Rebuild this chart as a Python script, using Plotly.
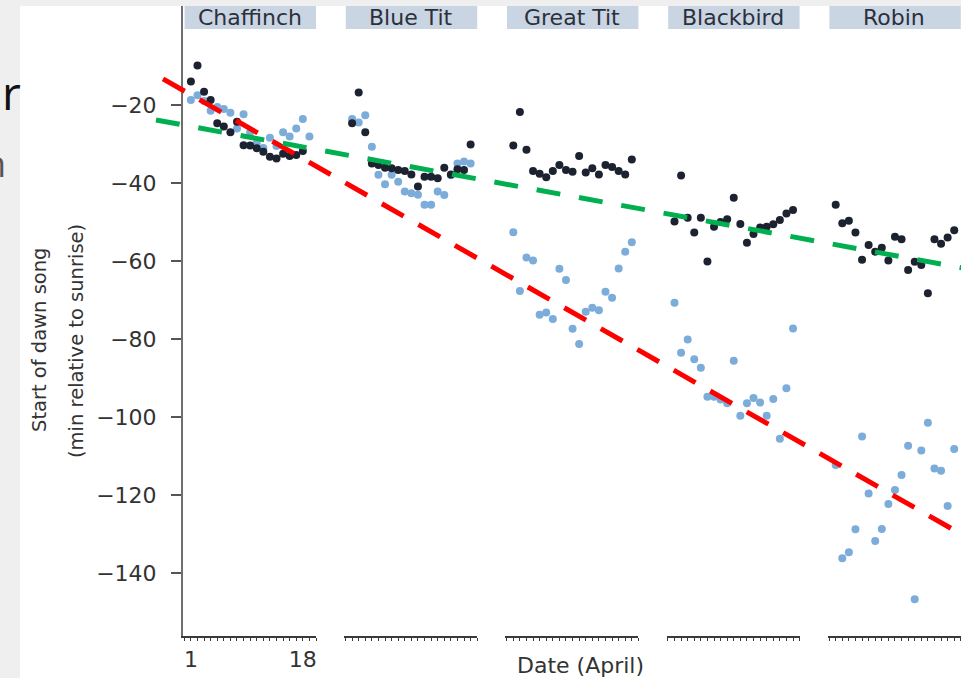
import plotly.graph_objects as go

# ---------------------------------------------------------------- data
species = ["Chaffinch", "Blue Tit", "Great Tit", "Blackbird", "Robin"]
days = list(range(1, 20))  # April days per panel

# start of dawn song (min relative to sunrise), dark = group 1, light = group 2
dark_chaffinch = [-14.0, -9.9, -16.6, -18.7, -24.7, -25.5, -27.0, -24.3, -30.3, -30.4,
                  -31.1, -32.0, -33.3, -33.7, -32.5, -33.1, -32.8, -31.8, None]
light_chaffinch = [-18.7, -17.5, -19.0, -21.5, -20.5, -21.0, -22.0, -26.0, -22.4, -27.0,
                   -29.8, -31.0, -28.4, -30.5, -27.0, -28.1, -26.0, -23.6, -28.1]

dark_blue_tit = [-24.7, -16.8, -27.0, -35.0, -35.4, -36.1, -36.2, -36.7, -36.9, -37.8,
                 -40.9, -38.4, -38.4, -38.8, -36.1, -37.8, -36.5, -36.7, -30.1]
light_blue_tit = [-23.6, -24.5, -22.6, -30.7, -37.9, -40.3, -37.9, -39.7, -42.2, -42.6,
                  -43.0, -45.6, -45.6, -42.2, -43.1, -38.0, -35.0, -34.5, -35.0]

dark_great_tit = [-30.4, -21.8, -31.5, -36.9, -37.6, -38.5, -36.9, -35.4, -36.7, -37.1,
                  -33.1, -37.3, -36.2, -37.8, -35.4, -35.9, -36.9, -37.8, -34.0]
light_great_tit = [-52.6, -67.7, -59.1, -59.9, -73.8, -73.2, -74.9, -62.0, -64.9, -77.4,
                   -81.3, -73.0, -72.0, -72.6, -67.9, -69.4, -61.9, -57.6, -55.2]

dark_blackbird = [-49.9, -38.1, -48.9, -52.7, -48.9, -60.1, -51.2, -50.0, -49.3, -43.8,
                  -50.5, -55.3, -53.1, -51.4, -51.2, -50.6, -49.5, -47.8, -46.9]
light_blackbird = [-70.7, -83.5, -80.1, -85.2, -87.4, -94.8, -94.8, -95.5, -96.5, -85.6,
                   -99.7, -96.5, -95.1, -96.3, -99.7, -95.4, -105.6, -92.6, -77.3]

dark_robin = [-45.6, -50.3, -49.7, -52.7, -59.7, -55.9, -57.6, -56.6, -59.9, -53.8,
              -54.4, -62.3, -60.2, -61.0, -68.3, -54.4, -55.6, -54.0, -52.1]
light_robin = [-112.3, -136.2, -134.7, -128.8, -105.0, -119.6, -131.8, -128.7, -122.3, -118.7,
               -114.9, -107.4, -146.7, -108.6, -101.5, -113.2, -113.8, -122.8, -108.2]

dark_series = [dark_chaffinch, dark_blue_tit, dark_great_tit, dark_blackbird, dark_robin]
light_series = [light_chaffinch, light_blue_tit, light_great_tit, light_blackbird, light_robin]

y_ticks = [-20, -40, -60, -80, -100, -120, -140]
x_tick_labels = {1: "1", 18: "18"}

# overall trends across species (value at left end, value at right end)
trend_light = [-13.3, -130.3]
trend_dark = [-23.85, -61.8]

# ---------------------------------------------------------------- layout geometry
W, H = 961, 678
L, R, T, B = 183, 0, 6, 42
PW, PH = W - L - R, H - T - B
STRIP_H = 23
Y_RANGE = [-156.15, 5.38]
X_RANGE = [-0.2, 20.0]
PITCH = 161.2 / PW
SPAN = 133.0 / PW

FONT = "DejaVu Sans"
TXT = "#333333"
DARK = "#1d2230"
LIGHT = "#7cacda"


def px_x(px):
    return (px - L) / PW


def px_y(py):
    return (H - B - py) / PH


fig = go.Figure()

for i in range(len(species)):
    xa = "x" if i == 0 else f"x{i + 1}"
    fig.add_trace(go.Scatter(
        x=days, y=light_series[i], xaxis=xa, yaxis="y", mode="markers",
        marker=dict(color=LIGHT, size=8, line=dict(width=0)),
        showlegend=False, hoverinfo="skip"))
    fig.add_trace(go.Scatter(
        x=days, y=dark_series[i], xaxis=xa, yaxis="y", mode="markers",
        marker=dict(color=DARK, size=8, line=dict(width=0)),
        showlegend=False, hoverinfo="skip"))

layout = dict(
    width=W, height=H,
    margin=dict(l=L, r=R, t=T, b=B, pad=0),
    paper_bgcolor="white", plot_bgcolor="white",
    showlegend=False,
    yaxis=dict(
        domain=[0, 1], range=Y_RANGE, anchor="x",
        tickvals=y_ticks, ticktext=[f"\u2212{abs(v)}" for v in y_ticks],
        ticks="outside", ticklen=10, tickwidth=1.5, tickcolor="#555555",
        ticklabelstandoff=10,
        showline=True, linecolor="#6e6e6e", linewidth=2,
        showgrid=False, zeroline=False,
        tickfont=dict(family=FONT, size=22, color=TXT),
    ),
)

all_ticks = list(range(0, 21))
for i in range(len(species)):
    key = "xaxis" if i == 0 else f"xaxis{i + 1}"
    d0 = i * PITCH
    layout[key] = dict(
        domain=[d0, min(d0 + SPAN, 1.0)], range=X_RANGE, anchor="y",
        tickvals=all_ticks,
        ticktext=[x_tick_labels.get(t, "") for t in all_ticks],
        showticklabels=(i == 0),
        ticks="outside", ticklen=3, tickwidth=1.3, tickcolor="#3a3a3a",
        showline=True, linecolor="#3a3a3a", linewidth=2,
        showgrid=False, zeroline=False,
        tickfont=dict(family=FONT, size=22, color=TXT),
    )

shapes = []
annotations = []

# slide background bands around the figure
shapes.append(dict(type="rect", xref="paper", yref="paper", layer="below",
                   x0=px_x(-5), x1=px_x(20), y0=px_y(H + 5), y1=px_y(-5),
                   fillcolor="#efefef", line=dict(width=0)))
shapes.append(dict(type="rect", xref="paper", yref="paper", layer="below",
                   x0=px_x(-5), x1=px_x(W + 5), y0=px_y(6), y1=px_y(-5),
                   fillcolor="#efefef", line=dict(width=0)))

# species header strips
for i, name in enumerate(species):
    xd = "x domain" if i == 0 else f"x{i + 1} domain"
    shapes.append(dict(type="rect", xref=xd, yref="paper", layer="below",
                       x0=0.012, x1=1.0, y0=1 - STRIP_H / PH, y1=1.0,
                       fillcolor="#c9d5e3", line=dict(width=0)))
    annotations.append(dict(text=name, xref=xd, yref="paper", x=0.5,
                            y=1 - STRIP_H / 2 / PH, showarrow=False,
                            xanchor="center", yanchor="middle",
                            font=dict(family=FONT, size=22, color="#2c303b")))

# trend lines across all species
shapes.append(dict(type="line", xref="paper", yref="y", layer="above",
                   x0=px_x(163), x1=px_x(W + 2), y0=trend_light[0], y1=trend_light[1],
                   line=dict(color="#ff0000", width=5, dash="25px,17px")))
shapes.append(dict(type="line", xref="paper", yref="y", layer="above",
                   x0=px_x(156), x1=px_x(W + 2), y0=trend_dark[0], y1=trend_dark[1],
                   line=dict(color="#00b050", width=5, dash="24px,19px")))

# axis titles
annotations.append(dict(text="Date (April)", xref="paper", yref="paper",
                        x=px_x(580), y=px_y(665), showarrow=False,
                        xanchor="center", yanchor="middle",
                        font=dict(family=FONT, size=22, color=TXT)))
annotations.append(dict(text="Start of dawn song", xref="paper", yref="paper",
                        x=px_x(39), y=px_y(340), showarrow=False, textangle=-90,
                        xanchor="center", yanchor="middle",
                        font=dict(family=FONT, size=19.5, color=TXT)))
annotations.append(dict(text="(min relative to sunrise)", xref="paper", yref="paper",
                        x=px_x(76), y=px_y(341), showarrow=False, textangle=-90,
                        xanchor="center", yanchor="middle",
                        font=dict(family=FONT, size=19.5, color=TXT)))

# slide text running in from the left edge
annotations.append(dict(text="r", xref="paper", yref="paper",
                        x=px_x(0), y=px_y(92), showarrow=False,
                        xanchor="left", yanchor="middle",
                        font=dict(family="Open Sans", size=46, color="#111111")))
annotations.append(dict(text="n", xref="paper", yref="paper",
                        x=px_x(8), y=px_y(163), showarrow=False,
                        xanchor="right", yanchor="middle",
                        font=dict(family="Open Sans", size=36, color="#555555")))

layout["shapes"] = shapes
layout["annotations"] = annotations
fig.update_layout(**layout)

fig.write_html("out.html")
